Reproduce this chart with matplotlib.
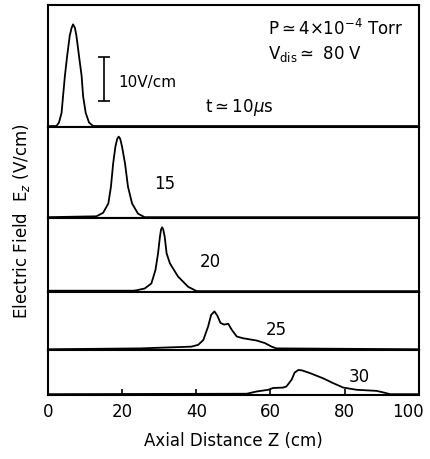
import numpy as np
import matplotlib.pyplot as plt
from matplotlib.transforms import ScaledTranslation

# axial profiles of E_z (z in cm, E in V/cm)
z_10 = [0, 2.3, 3.0, 3.7, 4.1, 4.6, 5.2, 5.9, 6.4, 6.8, 7.3, 7.7, 8.4, 9.1, 9.5, 10.2, 11.1, 12.2, 100]
e_10 = [0, 0, 0.8, 3.0, 6.8, 11.4, 15.9, 20.5, 22.3, 23.1, 22.3, 20.5, 15.9, 11.4, 6.8, 3.0, 0.8, 0, 0]

z_15 = [0, 13.1, 14.9, 16.3, 17.0, 17.6, 18.2, 18.7, 19.1, 19.5, 20.0, 20.8, 21.6, 22.7, 24.3, 26.1, 100]
e_15 = [0, 0.2, 1.0, 3.1, 6.9, 12.2, 16.0, 17.8, 18.3, 17.8, 16.0, 12.2, 6.9, 3.1, 0.8, 0, 0]

z_20 = [0, 23.0, 23.9, 26.1, 27.9, 29.0, 29.7, 30.2, 30.5, 30.8, 31.1, 31.5, 32.0, 32.9, 35.1, 37.8, 40.1, 100]
e_20 = [0.1, 0.1, 0.2, 0.6, 1.75, 4.8, 8.6, 12.3, 14.0, 14.5, 14.0, 12.3, 8.6, 6.3, 3.3, 1.0, 0, 0]

z_25 = [0, 25, 38.7, 40.5, 41.9, 43.2, 44.0, 44.9, 45.7, 46.5, 47.5, 48.6, 49.5, 50.9, 52.6, 56.2, 58.5, 60.3, 61.6, 100]
e_25 = [0, 0.2, 0.6, 1.0, 2.1, 5.2, 7.8, 8.6, 7.6, 6.0, 5.6, 5.8, 4.5, 2.9, 2.5, 2.0, 1.4, 0.6, 0.2, 0]

z_30 = [0, 53.6, 56.2, 59.4, 60.7, 63.4, 64.3, 65.7, 66.5, 67.5, 68.5, 70.6, 74.2, 76.9, 79.6, 83.2, 88.6, 90.4, 92.2, 100]
e_30 = [0, 0.1, 0.6, 1.0, 1.4, 1.5, 1.75, 3.3, 4.9, 5.5, 5.4, 4.8, 3.6, 2.5, 1.5, 1.0, 0.75, 0.4, 0, 0]

profiles = [(z_10, e_10), (z_15, e_15), (z_20, e_20), (z_25, e_25), (z_30, e_30)]
time_labels = ["15", "20", "25", "30"]
label_pos = [(31.5, 7.7), (43.7, 6.8), (61.5, 4.5), (83.8, 4.1)]
z_ticks = [0, 20, 40, 60, 80, 100]

# panel heights in V/cm (all panels share the same vertical scale)
panel_tops = [27.7, 20.7, 16.8, 13.2, 10.2]

fig = plt.figure(figsize=(4.31, 4.60), dpi=100)
gs = fig.add_gridspec(5, 1, height_ratios=panel_tops, hspace=0,
                      left=0.111, right=0.972, top=0.987, bottom=0.139)
axes = [fig.add_subplot(gs[i]) for i in range(5)]

for i, ax in enumerate(axes):
    z, e = profiles[i]
    ax.plot(z, e, color="black", lw=1.3, solid_joinstyle="round")
    ax.set_xlim(0, 100)
    ax.set_ylim(-0.2, panel_tops[i] - 0.2)
    ax.set_yticks([])
    ax.set_xticks(z_ticks)
    if i < 4:
        ax.tick_params(axis="x", length=0, labelbottom=False)
    else:
        ax.tick_params(axis="x", direction="in", length=4, width=1.2,
                       labelsize=12, pad=5)
    for s in ax.spines.values():
        s.set_linewidth(1.5)
    if i > 0:
        lx, ly = label_pos[i - 1]
        ax.text(lx, ly, time_labels[i - 1], ha="center", va="center", fontsize=12)

# last tick label sits a bit left of its tick, as in the original
fig.canvas.draw()
last = axes[4].get_xticklabels()[-1]
last.set_transform(last.get_transform() + ScaledTranslation(-0.11, 0, fig.dpi_scale_trans))

ax1 = axes[0]
ax1.text(59.3, 22.3, r"P$\simeq$4$\times$10$^{-4}$ Torr", va="center", fontsize=12)
ax1.text(59.3, 16.6, r"V$_{\rm dis}$$\simeq$ 80 V", va="center", fontsize=12)
ax1.text(18.9, 10.2, "10V/cm", va="center", fontsize=11)
ax1.text(42.3, 4.5, r"t$\simeq$10$\mu$s", va="center", fontsize=12)
# 10 V/cm scale bar
ax1.errorbar([15.1], [10.7], yerr=[5.0], color="black", lw=1.2, capsize=4, capthick=1.2)

axes[4].set_xlabel("Axial Distance Z (cm)", fontsize=12, labelpad=8)
fig.text(0.05, 0.52, r"Electric Field  E$_z$ (V/cm)", rotation=90,
         ha="center", va="center", fontsize=12)

fig.savefig("out.png", dpi=100)
